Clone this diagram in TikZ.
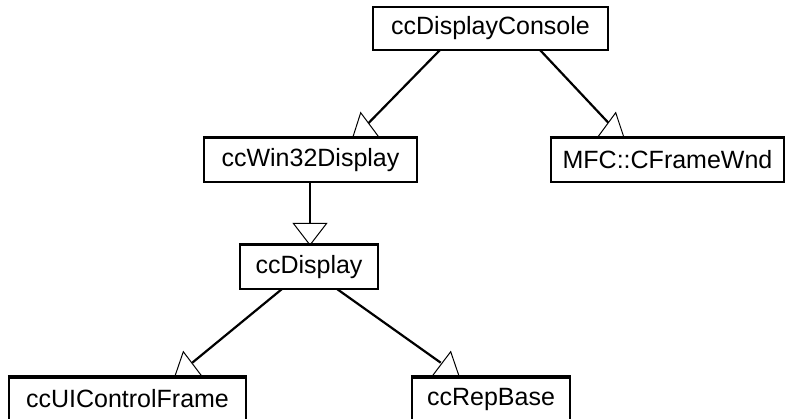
\documentclass[tikz,border=0pt]{standalone}
\usepackage{fontspec}
\setmainfont{Liberation Sans}
\begin{document}
\begin{tikzpicture}[x=1pt,y=-1pt,
  cls/.style={draw=black, line width=2.2pt, fill=white, rectangle, inner sep=0pt,
    font=\fontsize{25}{30}\selectfont},
  link/.style={draw=black, line width=2.2pt},
  gen/.style={draw=black, line width=1pt, fill=white, line join=miter}]
\clip (0,0) rectangle (786,419);
\fill[white] (0,0) rectangle (786,419);

% class boxes, sized from their corners
\node[cls, minimum width=235pt, minimum height=43pt] (console) at (490.5,28.5) {ccDisplayConsole};
\node[cls, minimum width=213pt, minimum height=44pt] (win32) at (310.5,160) {ccWin32Display};
\node[cls, minimum width=233pt, minimum height=44pt] (mfc) at (667.5,160) {MFC::CFrameWnd};
\node[cls, minimum width=138pt, minimum height=44pt] (display) at (309,267) {ccDisplay};
\node[cls, minimum width=237pt, minimum height=60pt, text depth=0pt, anchor=north] (uic) at (127.5,376.5) {};
\node[cls, minimum width=158pt, minimum height=60pt, anchor=north] (rep) at (491,376.5) {};
\node[font=\fontsize{25}{30}\selectfont] (uictext) at (127.5,399) {ccUIControlFrame};
\node[font=\fontsize{25}{30}\selectfont] (reptext) at (491,399) {ccRepBase};

% connector end points on the box edges and on the triangles
\coordinate (consoleL) at (440,50);
\coordinate (consoleR) at (540,50);
\coordinate (win32In) at (368.3,123.3);
\coordinate (mfcIn) at (608.3,122.7);
\coordinate (win32Out) at (310,182);
\coordinate (displayIn) at (310,223.3);
\coordinate (displayL) at (282,289);
\coordinate (displayR) at (337,289);
\coordinate (uicIn) at (192.3,362.7);
\coordinate (repIn) at (440.7,362.7);

% connectors
\draw[link] (consoleL) -- (win32In);
\draw[link] (consoleR) -- (mfcIn);
\draw[link] (win32Out) -- (displayIn);
\draw[link] (displayL) -- (uicIn);
\draw[link] (displayR) -- (repIn);

% generalization triangles
\draw[gen] (352.7,137.7) -- (360.7,112.7) -- (379.3,137.7) -- cycle;
\draw[gen] (597.3,137.7) -- (615.7,112.7) -- (624,137.7) -- cycle;
\draw[gen] (293.3,223.3) -- (326.7,223.3) -- (310,245) -- cycle;
\draw[gen] (175,376) -- (183.3,351.7) -- (201.7,376) -- cycle;
\draw[gen] (432.3,376) -- (450.7,351.7) -- (459,376) -- cycle;

% redraw the box edges under the triangles
\draw[link] (win32.north west) -- (win32.north east);
\draw[link] (mfc.north west) -- (mfc.north east);
\draw[link] (display.north west) -- (display.north east);
\draw[link] (uic.north west) -- (uic.north east);
\draw[link] (rep.north west) -- (rep.north east);
\end{tikzpicture}
\end{document}
